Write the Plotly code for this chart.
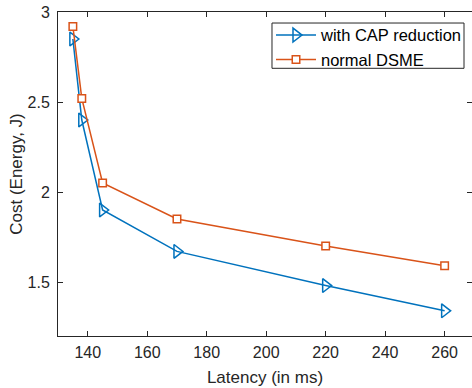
import plotly.graph_objects as go

# Latency (ms) vs. energy cost (J) for the two superframe configurations
latency = [135, 138, 145, 170, 220, 260]
cost_cap_reduction = [2.85, 2.40, 1.90, 1.67, 1.48, 1.34]
cost_normal_dsme = [2.92, 2.52, 2.05, 1.85, 1.70, 1.59]

x_ticks = [140, 160, 180, 200, 220, 240, 260]
y_ticks = [1.5, 2, 2.5, 3]

BLUE = "#0072BD"
ORANGE = "#D95319"
AXIS = "#262626"
FONT = "Liberation Sans, Arial, Helvetica, sans-serif"

fig = go.Figure()
fig.add_trace(go.Scatter(
    x=latency, y=cost_cap_reduction, name="with CAP reduction",
    mode="lines+markers",
    line=dict(color=BLUE, width=1.5),
    marker=dict(symbol="triangle-right-open", size=12, color=BLUE,
                line=dict(width=1.5, color=BLUE)),
))
fig.add_trace(go.Scatter(
    x=latency, y=cost_normal_dsme, name="normal DSME",
    mode="lines+markers",
    line=dict(color=ORANGE, width=1.5),
    marker=dict(symbol="square", size=7.5, color="white",
                line=dict(width=1.5, color=ORANGE)),
))

axis_common = dict(
    showline=True, linecolor=AXIS, linewidth=1, mirror="ticks",
    ticks="inside", ticklen=5, tickwidth=1, tickcolor=AXIS,
    showgrid=False, zeroline=False,
    tickfont=dict(family=FONT, size=16, color=AXIS),
)

# legend frame (white box with a thin dark border)
legend_box = dict(type="rect", xref="paper", yref="paper",
                  x0=0.5169, x1=0.9807, y0=0.8262, y1=0.966,
                  fillcolor="white", line=dict(color=AXIS, width=1),
                  layer="above")

fig.update_layout(
    width=472, height=388,
    margin=dict(l=58, r=0, t=12, b=52),
    paper_bgcolor="white", plot_bgcolor="white",
    font=dict(family=FONT, color=AXIS),
    xaxis=dict(range=[130, 269.2], tickvals=x_ticks, ticklabelstandoff=2,
               title=dict(text="Latency (in ms)", font=dict(size=17, color=AXIS),
                          standoff=10),
               **axis_common),
    yaxis=dict(range=[1.2, 3], tickvals=y_ticks, ticktext=["1.5", "2", "2.5", "3"],
               ticklabelstandoff=4,
               title=dict(text="Cost (Energy, J)", font=dict(size=17, color=AXIS),
                          standoff=0),
               **axis_common),
    legend=dict(x=0.5145, y=0.982, xanchor="left", yanchor="top",
                bgcolor="rgba(0,0,0,0)", borderwidth=0,
                font=dict(family=FONT, size=16.5, color="black"),
                itemwidth=40, tracegroupgap=0),
    shapes=[legend_box],
    showlegend=True,
)

fig.write_html("out.html")
